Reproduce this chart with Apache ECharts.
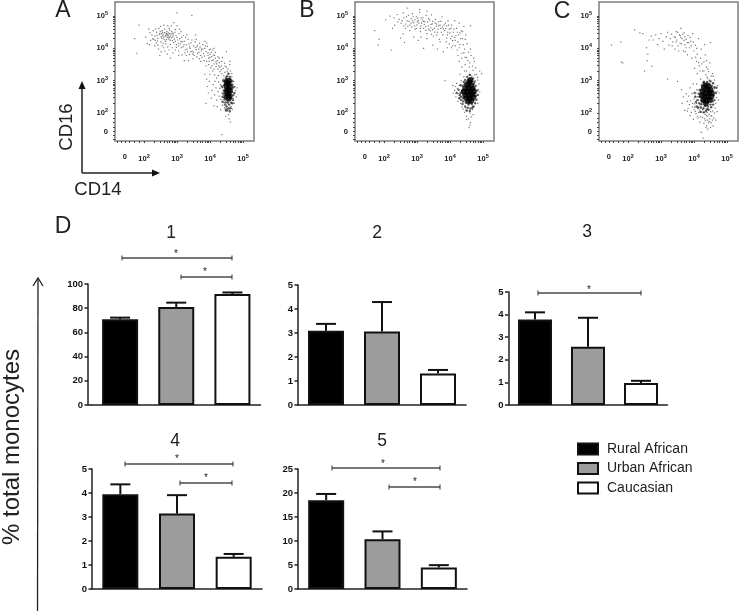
<!DOCTYPE html>
<html><head><meta charset="utf-8">
<style>html,body{margin:0;padding:0;background:#fff}#c{width:740px;height:611px}</style>
<script src="https://cdn.jsdelivr.net/npm/echarts@6/dist/echarts.min.js"></script>
</head><body><div id="c"></div>
<script>
const groups = ['Rural African','Urban African','Caucasian'];
const panelNames = ['1','2','3','4','5'];
const barsRural = [70.8,3.09,3.78,3.95,18.5];
const barsUrban = [81,3.06,2.58,3.15,10.36];
const barsCauc  = [91.7,1.31,0.97,1.34,4.49];
const errRural = [72.2,3.38,4.1,4.36,19.8];
const errUrban = [84.6,4.29,3.86,3.91,12.0];
const errCauc  = [93,1.46,1.07,1.46,4.97];
const flowLabelValues = [1.42,2,3,4,5];

const pointsA = [[2.71,4.41],[2.64,4.38],[2.78,4.46],[2.58,4.44],[2.83,4.33],[2.69,4.52],[2.75,4.29],[2.61,4.27],[2.88,4.41],[2.52,4.36],[2.67,4.47],[2.8,4.38],[2.73,4.35],[2.56,4.5],[2.92,4.29],[2.47,4.43],[2.84,4.52],[2.63,4.6],[2.97,4.4],[2.42,4.31],[2.76,4.62],[2.51,4.2],[2.9,4.18],[2.66,4.14],[3.02,4.26],[2.38,4.5],[3.06,4.46],[2.95,4.58],[2.33,4.38],[2.45,4.62],[2.6,4.72],[2.82,4.7],[3.1,4.14],[2.72,4.05],[2.55,4.08],[2.86,4.02],[2.28,4.55],[2.24,4.42],[2.37,4.17],[2.98,4.03],[2.44,3.98],[3.14,4.35],[3.18,4.05],[3.05,3.92],[2.63,3.92],[2.18,4.49],[2.32,4.08],[3.0,4.7],[2.9,4.8],[3.22,4.22],[2.14,4.6],[2.7,3.82],[2.88,3.86],[2.48,3.78],[1.85,4.72],[1.72,4.3],[1.78,3.85],[3.0,5.1],[3.45,5.02],[2.1,4.15],[2.68,4.43],[2.74,4.48],[2.6,4.33],[2.79,4.25],[2.54,4.31],[2.86,4.47],[2.49,4.53],[2.65,4.22],[2.95,4.22],[2.41,4.23],[3.08,4.3],[2.3,4.28],[3.28,4.12],[3.34,4.28],[3.3,3.98],[3.38,4.05],[3.24,3.86],[3.42,4.18],[3.46,3.92],[3.5,4.08],[3.38,3.82],[3.55,4.2],[3.58,3.96],[3.52,3.78],[3.62,4.1],[3.66,3.88],[3.6,3.74],[3.7,4.04],[3.74,3.92],[3.68,3.68],[3.78,4.12],[3.8,3.84],[3.76,3.72],[3.84,4.0],[3.88,3.9],[3.82,3.62],[3.92,4.06],[3.94,3.78],[3.9,3.6],[3.98,3.96],[4.0,3.72],[3.96,3.5],[4.04,3.88],[4.06,3.62],[4.02,3.4],[4.1,3.8],[4.12,3.52],[4.08,3.3],[4.16,3.7],[4.18,3.44],[4.14,3.18],[4.22,3.62],[4.24,3.36],[4.2,3.08],[4.28,3.56],[4.3,3.28],[4.26,2.96],[4.34,3.46],[4.36,3.22],[4.32,2.88],[4.4,3.38],[4.42,3.16],[4.38,2.78],[3.15,3.8],[3.22,3.62],[3.48,3.68],[3.3,4.42],[3.56,4.42],[3.85,4.22],[4.12,4.0],[4.38,3.72],[4.5,3.9],[4.6,3.5],[4.46,3.45],[4.52,3.28],[4.48,3.12],[4.55,3.2],[4.62,3.3],[4.58,3.06],[4.66,3.12],[4.44,3.02],[4.7,2.98],[3.98,2.98],[3.92,2.82],[3.95,2.62],[4.06,2.7],[4.1,2.88],[4.04,2.46],[4.14,2.56],[4.18,2.78],[4.2,2.4],[4.24,2.66],[4.28,2.52],[4.3,2.76],[4.33,2.42],[4.36,2.62],[4.12,2.22],[3.88,2.3],[4.22,2.2],[4.32,2.1],[4.4,2.55],[4.42,2.32],[4.44,2.16],[4.46,2.72],[4.38,2.24],[4.48,2.05],[4.52,2.14],[4.56,1.95],[4.6,2.08],[4.64,2.2],[4.58,1.82],[4.62,1.72],[4.48,1.9],[4.36,1.33],[4.66,2.32],[4.7,2.45],[4.74,2.6],[4.76,2.82],[4.72,2.98],[4.78,2.7],[4.8,2.5],[4.68,2.12],[4.74,2.3],[4.82,2.78],[4.66,3.22],[4.6,3.6],
[2.55,4.55],[2.9,4.47],[2.35,4.6],[3.12,4.52],[2.72,4.7],[2.26,4.3],[3.2,4.4],[2.5,4.68],[3.05,4.08],[2.8,4.12],[2.6,4.02],[2.42,4.1],[2.95,3.95],[3.25,3.95],[3.16,4.2],[3.36,4.14],[3.42,3.9],[3.55,4.02],[3.28,3.78],[3.45,4.26],[3.68,4.16],[3.62,3.84],[3.74,3.98],[3.84,3.76],[3.9,4.16],[3.58,4.28],[4.02,3.98],[3.86,4.08],[4.1,3.64],[4.0,3.82],[4.16,3.88],[4.24,3.74],[4.3,3.42],[4.2,3.52],[4.36,3.6],[4.44,3.54],[4.06,3.46],[3.98,3.6],[4.28,3.7],[4.12,3.36],[2.2,4.25],[2.98,4.12],[3.08,4.6],[2.68,4.27],[2.58,4.16],[2.78,4.56],[2.86,4.24],[2.94,4.5],[2.48,4.47],[2.4,4.4],[2.74,4.41],[2.62,4.49],[2.7,4.33],[2.82,4.44],[2.66,4.39],[2.57,4.39],[2.77,4.34],[2.69,4.46],[2.53,4.46],[2.87,4.36],[3.0,4.34],[3.12,4.22],[3.26,4.34],[3.4,4.0],[3.32,3.9],[3.5,3.88],[3.66,3.98],[3.78,3.98],[3.94,3.86],[4.05,3.75],[4.18,3.58],[4.26,3.46],[4.34,3.34],[4.45,3.26],[4.5,3.42],[4.4,3.05],[4.54,3.36],[3.05,3.78],[2.8,3.7],[3.35,3.62],[3.72,3.6],[3.88,3.46],[3.84,3.2],[4.0,3.2],[4.15,2.98],[4.25,3.16],[3.9,3.05],[3.13,4.02],[3.03,4.16],[3.21,4.1],[2.76,3.95],[2.52,3.9],[2.34,4.25],[3.48,3.82],[3.6,4.05],[3.72,3.78],[4.08,3.95],[3.96,3.7],[4.14,3.78],[2.17,4.12],[2.05,4.35]];
const haloA = [[4.4,3.0],[4.45,2.55],[4.38,2.35],[4.7,2.55],[4.72,2.8],[4.66,3.0],[4.68,2.3],[4.62,2.15],[4.5,2.2],[4.44,2.42],[4.42,2.7],[4.47,2.95],[4.52,3.14],[4.6,3.12],[4.66,2.65],[4.65,2.45],[4.36,2.82],[4.74,2.62],[4.58,2.26],[4.47,2.33],[4.54,2.32],[4.64,2.32],[4.68,2.88],[4.4,2.6],[4.43,2.86],[4.56,3.22],[4.48,3.08],[4.62,3.04],[4.7,2.4],[4.38,2.5],[4.6,2.05],[4.52,2.08],[4.56,2.14],[4.48,2.1],[4.67,2.75],[4.43,2.48],[4.64,2.95],[4.46,2.26]];
const coreA = [[4.55,2.9],[4.5,2.82],[4.6,2.82],[4.54,2.72],[4.6,2.68],[4.5,2.66],[4.55,2.58],[4.59,2.52],[4.52,2.5],[4.56,3.0],[4.56,2.44],[4.5,2.96]];

const pointsB = [[2.05,4.88],[2.18,5.0],[2.32,4.72],[2.4,5.05],[2.46,4.9],[2.52,4.78],[2.58,5.1],[2.6,4.95],[2.65,4.62],[2.7,4.85],[2.74,5.02],[2.78,4.72],[2.82,4.92],[2.86,5.08],[2.9,4.8],[2.94,4.6],[2.98,4.98],[3.0,4.72],[3.04,4.86],[3.08,5.12],[3.1,4.52],[3.14,4.78],[3.18,4.95],[3.2,4.62],[3.24,4.82],[3.28,5.02],[3.3,4.46],[3.34,4.7],[3.38,4.88],[3.4,4.55],[3.44,5.04],[3.46,4.76],[3.5,4.38],[3.52,4.62],[3.56,4.9],[3.58,4.68],[3.62,4.5],[3.66,4.82],[3.68,4.28],[3.72,4.62],[3.76,4.98],[3.78,4.42],[3.82,4.72],[3.84,4.55],[3.88,4.2],[3.92,4.42],[3.94,4.85],[3.98,4.6],[4.02,4.3],[4.05,4.72],[4.08,4.08],[4.1,4.5],[4.14,4.86],[4.16,4.25],[4.2,4.62],[4.22,3.95],[4.26,4.42],[4.28,4.78],[4.3,4.12],[4.34,4.55],[4.36,3.85],[4.38,4.3],[4.42,4.68],[4.44,3.98],[4.46,3.72],[4.48,4.42],[4.52,4.15],[4.54,3.62],[4.56,3.88],[4.6,3.55],[4.62,4.7],[4.64,3.78],[4.68,3.45],[4.7,3.32],[4.5,3.3],[4.46,3.5],[4.36,3.42],[4.28,3.6],[4.74,3.6],[4.78,3.4],[4.58,3.2],[4.66,3.14],[4.8,3.2],[4.84,3.02],[4.3,3.2],[4.42,3.12],[1.72,4.55],[1.85,4.28],[1.82,4.1],[2.22,3.95],[2.5,4.32],[2.62,4.18],[3.04,4.25],[3.2,4.0],[3.48,4.1],[3.62,3.98],[3.8,3.9],[2.3,4.95],[2.42,4.82],[2.55,4.86],[2.68,4.98],[2.76,4.84],[2.82,4.78],[2.88,4.98],[2.94,4.88],[3.02,4.94],[3.06,4.78],[3.12,4.7],[3.16,4.88],[3.26,4.68],[3.32,4.82],[3.36,4.6],[3.42,4.74],[3.48,4.84],[3.54,4.5],[3.6,4.75],[3.64,4.6],[3.7,4.72],[3.74,4.5],[3.8,4.6],[3.86,4.78],[3.9,4.32],[3.96,4.72],[4.0,4.48],[4.06,4.38],[4.12,4.6],[4.18,4.4],[4.24,4.2],[4.3,4.48],[4.38,4.52],[4.04,4.02],[3.92,4.02],[4.24,3.78],[2.78,4.55],[2.58,4.45],[2.9,4.35],[3.12,4.35],[3.3,4.3],[3.08,5.2],[2.7,5.25],[3.3,5.15],[2.26,4.62],[3.85,3.0],[4.1,2.62],[4.08,2.85],[4.14,2.7],[4.18,2.5],[4.2,2.92],[4.24,2.36],[4.22,2.76],[4.26,2.6],[4.28,2.86],[4.3,2.44],[4.32,2.3],[4.34,3.0],[4.16,2.82],[4.36,2.18],[4.4,2.12],[4.44,2.02],[4.48,2.16],[4.5,1.9],[4.52,2.06],[4.56,1.82],[4.6,2.0],[4.62,1.7],[4.58,1.55],[4.64,1.88],[4.68,2.1],[4.7,1.95],[4.74,2.2],[4.78,2.38],[4.82,2.55],[4.86,2.72],[4.88,2.9],[4.84,3.1],[4.76,3.0],[4.72,3.08],[4.9,3.3],[4.96,3.22],[4.9,2.65],[4.84,2.3],[4.6,1.62],[4.5,1.8],
[2.84,4.66],[3.01,4.82],[3.22,4.74],[2.66,4.75],[3.42,4.64],[3.13,4.95],[2.93,4.7],[3.55,4.78],[3.27,4.56],[3.66,4.7],[3.77,4.66],[3.87,4.62],[3.6,4.42],[3.44,4.44],[3.93,4.5],[4.03,4.62],[4.08,4.24],[4.22,4.5],[4.14,4.34],[4.32,4.3],[4.28,4.02],[4.4,4.12],[4.46,4.28],[4.35,3.7],[4.5,3.72],[4.42,3.86],[4.58,3.42],[4.62,3.98],[4.72,3.7],[3.35,4.92],[3.1,4.62],[2.98,4.62],[3.2,4.84],[3.47,4.58],[3.72,4.84],[3.9,4.7],[2.87,4.85],[2.72,4.68],[2.6,4.7],[4.16,4.08],[3.98,4.14],[3.7,4.2],[4.55,3.05],[4.75,3.18],[4.62,3.18],[4.44,3.3]];
const haloB = [[4.3,2.55],[4.26,2.72],[4.32,2.86],[4.34,2.4],[4.38,2.28],[4.42,2.96],[4.46,3.02],[4.52,3.12],[4.6,3.18],[4.68,3.06],[4.74,2.96],[4.78,2.84],[4.82,2.7],[4.84,2.56],[4.8,2.42],[4.76,2.3],[4.7,2.2],[4.62,2.14],[4.54,2.16],[4.46,2.2],[4.4,2.36],[4.36,2.68],[4.38,2.84],[4.44,2.88],[4.75,2.62],[4.72,2.4],[4.66,2.28],[4.56,2.26],[4.48,2.32],[4.66,2.98],[4.56,3.04],[4.78,2.52],[4.2,2.62],[4.34,2.5],[4.6,2.06],[4.5,2.08],[4.4,2.46],[4.72,2.9],[4.74,2.76],[4.32,2.62],[4.28,2.46],[4.68,2.16]];
const coreB = [[4.58,2.95],[4.52,2.88],[4.64,2.86],[4.46,2.76],[4.56,2.78],[4.68,2.76],[4.42,2.66],[4.52,2.66],[4.62,2.68],[4.72,2.66],[4.46,2.56],[4.56,2.56],[4.66,2.58],[4.5,2.46],[4.6,2.46],[4.7,2.5],[4.56,2.36],[4.64,2.38],[4.62,3.02]];

const pointsC = [[1.5,4.1],[1.78,4.2],[1.84,3.55],[1.8,3.58],[2.2,4.58],[2.36,4.48],[2.45,4.46],[2.5,3.3],[2.64,4.26],[2.56,4.02],[2.6,3.82],[2.58,3.62],[2.7,4.38],[2.76,4.26],[2.72,3.45],[2.84,4.42],[2.9,4.12],[2.94,4.3],[3.0,4.46],[3.06,4.22],[3.1,3.98],[3.16,4.36],[3.2,4.5],[3.24,4.1],[3.28,4.3],[3.32,4.44],[3.36,4.2],[3.4,4.36],[3.42,3.98],[3.46,4.52],[3.48,4.26],[3.52,4.08],[3.56,4.42],[3.58,4.16],[3.6,4.62],[3.64,4.3],[3.68,3.92],[3.7,4.48],[3.72,4.12],[3.76,4.28],[3.8,3.8],[3.82,4.4],[3.86,4.02],[3.9,4.22],[3.94,3.7],[3.96,4.46],[4.0,3.92],[4.04,4.1],[4.08,3.6],[4.1,3.82],[4.14,4.3],[4.16,3.46],[4.2,3.7],[4.22,3.98],[4.26,3.3],[4.3,3.58],[4.34,3.8],[4.36,3.18],[4.38,3.42],[4.42,3.06],[4.44,3.28],[4.48,3.55],[4.5,4.18],[4.32,4.12],[4.46,3.0],[4.52,3.14],[4.56,3.22],[3.2,3.05],[4.02,3.38],[4.1,3.22],[4.2,3.05],[4.3,2.98],[3.54,3.92],[3.7,4.25],[3.44,4.34],[3.5,4.5],[3.6,4.34],[3.66,4.44],[3.8,4.18],[3.88,4.34],[3.74,3.9],[3.98,4.2],[4.08,4.0],[3.5,2.98],[3.62,2.72],[3.68,2.5],[3.64,2.3],[3.72,2.08],[3.76,2.6],[3.8,2.36],[3.84,2.52],[3.82,2.14],[3.88,1.92],[3.9,2.38],[3.94,2.6],[3.96,2.18],[3.98,1.8],[4.0,2.44],[4.02,2.28],[4.04,2.05],[4.06,2.62],[4.08,2.72],[4.1,1.9],[4.12,2.2],[4.14,2.4],[4.16,2.58],[4.18,1.72],[4.2,2.02],[4.22,2.14],[4.24,2.8],[4.26,1.86],[4.28,2.02],[4.3,1.68],[4.32,1.82],[4.34,1.96],[4.36,2.12],[4.38,1.6],[4.4,1.78],[4.42,1.9],[4.44,1.7],[4.46,1.96],[4.48,1.82],[4.5,2.04],[4.52,1.7],[4.54,1.9],[4.56,2.06],[4.58,1.6],[4.6,1.84],[4.62,2.0],[4.64,2.15],[4.66,2.3],[4.68,2.48],[4.7,2.66],[4.72,2.85],[4.7,2.04],[4.66,1.78],[4.74,2.4],[4.76,2.62],[4.62,3.02],[4.56,2.92],[4.48,3.02],[4.4,2.88],[4.34,2.84],[4.28,2.76],[4.2,2.7],[4.12,2.7],[4.22,1.4],[4.36,1.55],[4.28,1.22],[3.98,2.9],[4.08,2.9],[3.88,2.78],[4.0,2.1],[4.08,2.3],[4.1,2.5],[4.16,2.1],[4.22,2.5],[4.24,2.26],[4.28,2.38],[4.3,2.18],[4.3,2.6],[4.34,2.24],[4.62,2.76],[4.58,3.14],[4.4,3.1],[4.5,1.55],[4.42,1.5],
[3.34,4.08],[3.58,4.4],[3.72,4.36],[3.84,4.18],[3.92,4.08],[4.05,3.72],[4.14,3.56],[4.24,3.52],[4.38,3.62],[3.62,4.14],[3.46,4.2],[3.76,4.02],[4.18,3.3],[4.3,3.3],[4.42,3.36],[3.96,2.3],[4.04,2.52],[3.92,2.02],[4.06,1.98],[4.14,2.02],[4.18,2.26],[4.2,1.88],[4.26,2.1],[4.34,1.76],[4.4,2.02],[4.46,1.74],[4.52,1.92],[4.56,1.78],[4.44,2.1],[4.38,1.92],[4.12,1.84],[4.02,2.18],[3.86,2.26],[3.8,2.06]];
const haloC = [[4.1,2.4],[4.14,2.6],[4.16,2.3],[4.18,2.72],[4.2,2.18],[4.24,2.86],[4.28,2.14],[4.3,2.96],[4.36,2.06],[4.4,2.96],[4.44,2.1],[4.5,2.98],[4.52,2.18],[4.58,2.92],[4.58,2.26],[4.62,2.8],[4.62,2.4],[4.66,2.62],[4.68,2.78],[4.04,2.5],[4.06,2.34],[4.12,2.16],[4.2,2.04],[4.26,2.62],[4.24,2.38],[4.34,2.22],[4.42,2.2],[4.5,2.26],[4.56,2.36],[4.32,2.88],[4.46,2.9],[4.54,2.84],[4.16,2.5],[4.22,2.28],[4.28,2.94],[4.6,2.54],[4.4,2.12],[4.02,2.62],[4.08,2.2],[4.3,2.02]];
const coreC = [[4.36,2.86],[4.44,2.82],[4.3,2.78],[4.4,2.72],[4.5,2.72],[4.26,2.66],[4.36,2.62],[4.46,2.62],[4.54,2.62],[4.24,2.54],[4.32,2.5],[4.42,2.5],[4.52,2.5],[4.28,2.4],[4.38,2.38],[4.48,2.4],[4.36,2.3]];

const flowPoints = [pointsA,pointsB,pointsC];
const flowHalos = [haloA,haloB,haloC];
const flowCores = [coreA,coreB,coreC];
const flowLefts = [115,355,599];

const barLayouts = [
 {left:92,top:284,width:168.5,height:121,max:100,interval:20,barW:36,offset:4},
 {left:298,top:285,width:168,height:120,max:5,interval:1,barW:36,offset:0},
 {left:508.5,top:292,width:159,height:113,max:5,interval:1,barW:34,offset:0},
 {left:92,top:469,width:170,height:120,max:5,interval:1,barW:36,offset:0},
 {left:298,top:469,width:169,height:120,max:25,interval:5,barW:36,offset:0}
];
const panelTitles = [[171,231],[377,231],[587,230],[175,439],[382,439]];

const fills = ['#000000','#9c9c9c','#ffffff'];
const font = '"Liberation Sans", Arial, sans-serif';
const seriesBars = [barsRural,barsUrban,barsCauc];
const seriesErr = [errRural,errUrban,errCauc];

function logTicks(){
  const t=[1.2,1.3,1.42,1.55,1.7,1.85];
  for(let d=2;d<=5;d++){ for(let m=1;m<=9;m++){ const v=d+Math.log10(m); if(v<5.3) t.push(v);} }
  return t;
}
function flowFmt(v){ return v<2 ? '{b|0}' : '{b|10}{s|'+Math.round(v)+'}'; }

const grid=[],xAxis=[],yAxis=[],series=[],title=[];
const flowRich={b:{fontFamily:font,fontSize:7.5,fontWeight:'bold',color:'#222'},s:{fontFamily:font,fontSize:5.5,fontWeight:'bold',color:'#222',verticalAlign:'top',padding:[0,0,5,0]}};
flowLefts.forEach((left,i)=>{
  grid.push({left:left,top:2,width:139,height:139,show:true,borderColor:'#7d7d7d',borderWidth:1.5,backgroundColor:'transparent'});
  xAxis.push({type:'value',gridIndex:i,min:1.121,max:5.333,splitLine:{show:false},axisLine:{show:false},
    axisTick:{show:true,length:2,customValues:logTicks(),lineStyle:{color:'#444',width:1}},
    axisLabel:{show:true,customValues:flowLabelValues,formatter:flowFmt,rich:flowRich,margin:12,color:'#222'}});
  yAxis.push({type:'value',gridIndex:i,min:1.133,max:5.437,splitLine:{show:false},axisLine:{show:false},
    axisTick:{show:true,length:2,customValues:logTicks(),lineStyle:{color:'#444',width:1}},
    axisLabel:{show:true,customValues:flowLabelValues,formatter:flowFmt,rich:flowRich,margin:7,color:'#222'}});
  series.push({type:'scatter',xAxisIndex:i,yAxisIndex:i,data:flowPoints[i],symbol:'rect',symbolSize:1.2,itemStyle:{color:'#555'},silent:true});
  series.push({type:'scatter',xAxisIndex:i,yAxisIndex:i,data:flowHalos[i],symbol:'circle',symbolSize:2.4,itemStyle:{color:'#333'},silent:true});
  series.push({type:'scatter',xAxisIndex:i,yAxisIndex:i,data:flowCores[i],symbol:'circle',symbolSize:6,itemStyle:{color:'#000'},silent:true});
});

barLayouts.forEach((L,p)=>{
  const g=grid.length;
  grid.push({left:L.left,top:L.top,width:L.width,height:L.height});
  xAxis.push({type:'category',gridIndex:g,data:groups,axisTick:{show:false},axisLabel:{show:false},axisLine:{show:true,lineStyle:{color:'#222',width:1.5}},splitLine:{show:false}});
  yAxis.push({type:'value',gridIndex:g,min:0,max:L.max,interval:L.interval,offset:L.offset,splitLine:{show:false},
    axisLine:{show:true,lineStyle:{color:'#222',width:1.5}},axisTick:{show:true,length:3.5,lineStyle:{color:'#222',width:1.5}},
    axisLabel:{fontFamily:font,fontSize:9.5,fontWeight:'bold',color:'#111',margin:5}});
  groups.forEach((name,k)=>{
    const d=[null,null,null]; d[k]=seriesBars[k][p];
    series.push({type:'bar',name:name,stack:'s'+p,xAxisIndex:g,yAxisIndex:g,data:d,barWidth:L.barW,
      itemStyle:{color:fills[k],borderColor:'#111',borderWidth:2},silent:true});
  });
  const errData=groups.map((n,k)=>[k,seriesBars[k][p],seriesErr[k][p]]);
  series.push({type:'custom',xAxisIndex:g,yAxisIndex:g,data:errData,encode:{x:0,y:2},clip:false,silent:true,z:1,
    renderItem:(params,api)=>{
      const a=api.coord([api.value(0),api.value(1)]), b=api.coord([api.value(0),api.value(2)]);
      const st={stroke:'#111',lineWidth:2,fill:null};
      return {type:'group',children:[
        {type:'line',shape:{x1:a[0],y1:a[1],x2:b[0],y2:b[1]},style:st},
        {type:'line',shape:{x1:b[0]-10,y1:b[1],x2:b[0]+10,y2:b[1]},style:st}
      ]};
    }});
  title.push({text:panelNames[p],left:panelTitles[p][0]-5,top:panelTitles[p][1]-12,textAlign:'center',textStyle:{fontFamily:font,fontSize:17.5,fontWeight:'normal',color:'#222'}});
});

function txt(x,y,s,size){
  return {type:'text',x:x,y:y,style:{text:s,fontFamily:font,fontSize:size,fill:'#222',textAlign:'center',textVerticalAlign:'middle'}};
}
function seg(x1,y1,x2,y2,c,w){ return {type:'line',shape:{x1,y1,x2,y2},style:{stroke:c||'#222',lineWidth:w||1.5}}; }
function bracket(x1,x2,y,sx,sy){
  return [seg(x1,y,x2,y,'#4a4a4a',1.5),seg(x1,y-2.5,x1,y+2.5,'#333',1),seg(x2,y-2.5,x2,y+2.5,'#333',1),txt(sx,sy+1,'*',10)];
}
const graphic=[
  txt(63,11,'A',23),txt(307,11,'B',23),txt(562,12,'C',23),txt(63,227,'D',23),
  txt(98,190,'CD14',18.5),
  {type:'text',x:67,y:127,rotation:Math.PI/2,style:{text:'CD16',fontFamily:font,fontSize:18.5,fill:'#222',textAlign:'center',textVerticalAlign:'middle'}},
  seg(82,173,82,88,'#222',1.5),seg(82,173,154,173,'#222',1.5),
  {type:'polygon',shape:{points:[[82,81],[78.5,89],[85.5,89]]},style:{fill:'#111'}},
  {type:'polygon',shape:{points:[[160,173],[152,169.5],[152,176.5]]},style:{fill:'#111'}},
  {type:'text',x:12,y:447,rotation:Math.PI/2,style:{text:'% total monocytes',fontFamily:font,fontSize:24,fill:'#222',textAlign:'center',textVerticalAlign:'middle'}},
  seg(37.5,611,38,279,'#222',1.3),
  {type:'polyline',shape:{points:[[33,286],[38,278],[43,286]]},style:{stroke:'#222',lineWidth:1.3,fill:null}},
  seg(88,405,92,405,'#222',1.5),
  ...bracket(122,232,258,176,253),...bracket(181,232,277,205,271),
  ...bracket(538,641,293,589,289),
  ...bracket(125,233,464,177,458),...bracket(180,232,483,206,477),
  ...bracket(332,440,468,383,463),...bracket(389,440,487,415,481)
];

const chart=echarts.init(document.getElementById('c'),null,{renderer:'canvas'});
chart.setOption({animation:false,backgroundColor:'#fff',title,grid,xAxis,yAxis,series,graphic,
  legend:{data:groups.map(n=>({name:n,icon:'rect'})),orient:'vertical',left:572,top:437,itemWidth:20,itemHeight:11,itemGap:5.5,selectedMode:false,
    textStyle:{fontFamily:font,fontSize:14,color:'#222',padding:[0,0,0,4]}}
});
</script></body></html>
